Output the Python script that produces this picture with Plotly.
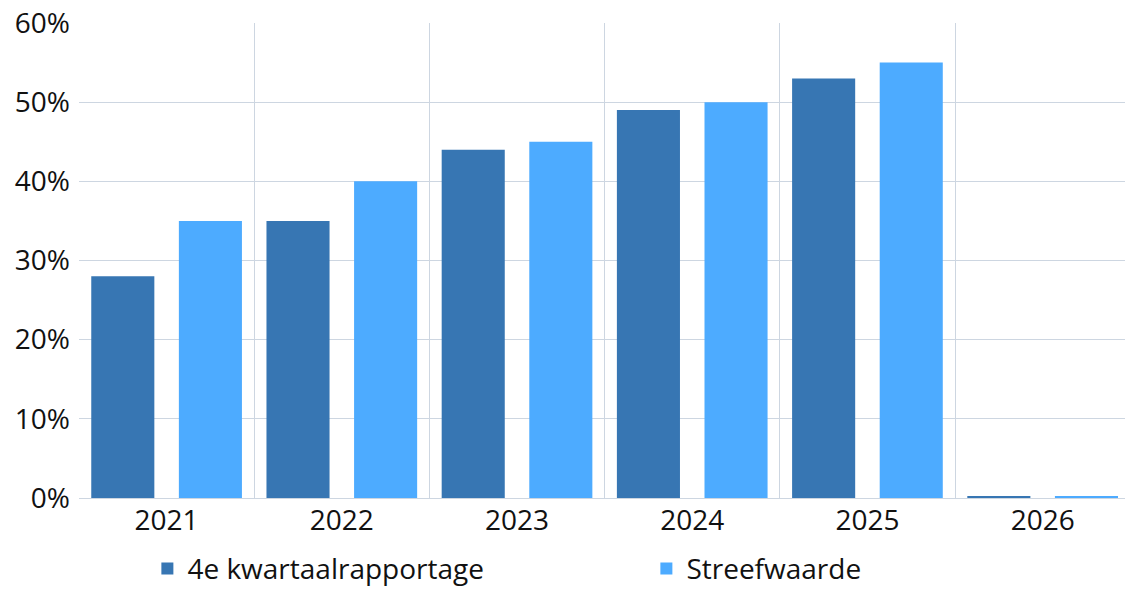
import plotly.graph_objects as go

years = ["2021", "2022", "2023", "2024", "2025", "2026"]
kwartaal = [28, 35, 44, 49, 53, 0.25]
streef = [35, 40, 45, 50, 55, 0.25]

dark = "#3776b3"
light = "#4dabff"
grid = "#cdd6e1"
font_family = "Segoe UI, Open Sans, sans-serif"

fig = go.Figure()
fig.add_trace(go.Bar(x=years, y=kwartaal, name="4e kwartaalrapportage", marker_color=dark,
                     marker_line_width=0))
fig.add_trace(go.Bar(x=years, y=streef, name="Streefwaarde", marker_color=light,
                     marker_line_width=0))

fig.update_layout(
    width=1125, height=589,
    margin=dict(l=79, r=0, t=23, b=91, autoexpand=False),
    plot_bgcolor="white", paper_bgcolor="white",
    barmode="group", bargap=0.0, bargroupgap=0.28,
    font=dict(family=font_family, size=28, color="#111111"),
    showlegend=True,
    legend=dict(orientation="h", x=0.131, xref="container", y=-0.149, yref="paper",
                xanchor="left", yanchor="middle", entrywidth=454, entrywidthmode="pixels",
                font=dict(size=28), itemwidth=30, tracegroupgap=0),
    xaxis=dict(type="category", range=[-0.5, 5.47], tickson="boundaries", showgrid=True,
               gridcolor=grid, gridwidth=1, ticks="", showline=False, automargin=False,
               tickfont=dict(size=28), ticklabelstandoff=3, ticklabeloverflow="allow"),
    yaxis=dict(range=[0, 60], dtick=10, ticksuffix="%", showgrid=True, gridcolor=grid,
               gridwidth=1, zeroline=True, zerolinecolor=grid, zerolinewidth=1,
               automargin=False, tickfont=dict(size=28), ticklabelstandoff=8,
               ticklabeloverflow="allow"),
)

fig.write_html("out.html", config={"displayModeBar": False},
               post_script="document.body.style.margin='0';")
